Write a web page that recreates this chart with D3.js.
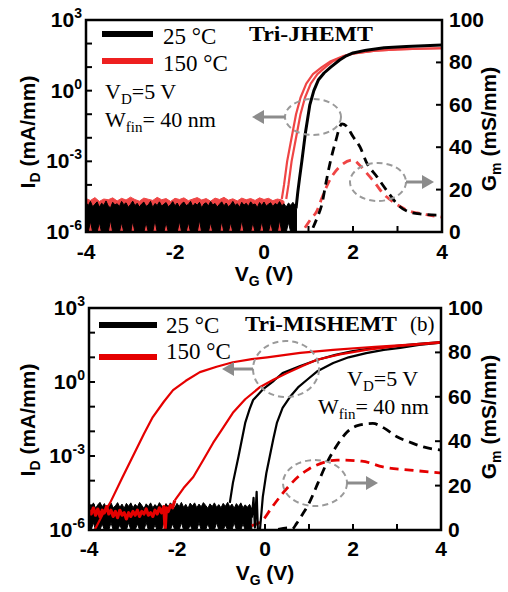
<!DOCTYPE html>
<html>
<head>
<meta charset="utf-8">
<script src="https://cdn.jsdelivr.net/npm/d3@7"></script>
<style>
  body { margin: 0; background: #fff; }
  text { fill: #000; }
</style>
</head>
<body>
<svg id="chart" width="508" height="592"></svg>
<script>
// ─── Axis ticks ───────────────────────────────────────────────────────────────
const vgTicks = [-4, -2, 0, 2, 4];
const vgMinorTicks = [-3, -1, 1, 3];
const idLabelExps = [3, 0, -3, -6];
const idMinorExps = [2, 1, -1, -2, -4, -5];
const gmTicks = [0, 20, 40, 60, 80, 100];

// ─── Panel (a): Tri-JHEMT, points are [VG, log10(ID)] or [VG, Gm] ─────────────
// noise floors: [VG, top log10, bottom log10]
const jNoise25 = [[-4.00,-4.75,-6],[-3.95,-4.88,-6],[-3.90,-4.70,-5.55],[-3.85,-4.93,-6],[-3.80,-4.82,-6],[-3.75,-4.72,-6],[-3.70,-4.95,-5.6],[-3.65,-4.78,-6],[-3.60,-4.86,-6],[-3.55,-4.68,-6],[-3.50,-4.90,-6],[-3.45,-4.97,-5.5],[-3.40,-4.74,-6],[-3.35,-4.85,-6],[-3.30,-4.80,-6],[-3.25,-4.92,-6],[-3.20,-4.70,-5.6],[-3.15,-4.84,-6],[-3.10,-4.76,-6],[-3.05,-4.95,-6],[-3.00,-4.83,-6],[-2.95,-4.69,-5.55],[-2.90,-4.88,-6],[-2.85,-4.78,-6],[-2.80,-4.94,-6],[-2.75,-4.81,-6],[-2.70,-4.73,-6],[-2.65,-4.91,-5.6],[-2.60,-4.85,-6],[-2.55,-4.70,-6],[-2.50,-4.96,-6],[-2.45,-4.79,-5.5],[-2.40,-4.87,-6],[-2.35,-4.72,-6],[-2.30,-4.90,-6],[-2.25,-4.82,-6],[-2.20,-4.75,-5.6],[-2.15,-4.93,-6],[-2.10,-4.84,-6],[-2.05,-4.71,-6],[-2.00,-4.89,-6],[-1.95,-4.77,-6],[-1.90,-4.95,-5.55],[-1.85,-4.80,-6],[-1.80,-4.73,-6],[-1.75,-4.88,-6],[-1.70,-4.83,-5.6],[-1.65,-4.70,-6],[-1.60,-4.92,-6],[-1.55,-4.78,-6],[-1.50,-4.86,-6],[-1.45,-4.74,-5.5],[-1.40,-4.97,-6],[-1.35,-4.81,-6],[-1.30,-4.76,-6],[-1.25,-4.90,-6],[-1.20,-4.71,-5.6],[-1.15,-4.85,-6],[-1.10,-4.79,-6],[-1.05,-4.94,-6],[-1.00,-4.82,-6],[-0.95,-4.72,-5.55],[-0.90,-4.89,-6],[-0.85,-4.77,-6],[-0.80,-4.93,-6],[-0.75,-4.84,-5.6],[-0.70,-4.70,-6],[-0.65,-4.87,-6],[-0.60,-4.80,-6],[-0.55,-4.95,-6],[-0.50,-4.74,-5.5],[-0.45,-4.86,-6],[-0.40,-4.78,-6],[-0.35,-4.91,-6],[-0.30,-4.72,-6],[-0.25,-4.84,-5.6],[-0.20,-4.81,-6],[-0.15,-4.96,-6],[-0.10,-4.75,-6],[-0.05,-4.88,-5.55],[0.00,-4.73,-6],[0.05,-4.90,-6],[0.10,-4.82,-6],[0.15,-4.76,-5.6],[0.20,-4.92,-6],[0.25,-4.79,-6],[0.30,-4.85,-6],[0.35,-4.71,-5.5],[0.40,-4.89,-6],[0.45,-4.80,-6],[0.50,-4.94,-6],[0.55,-4.77,-5.6],[0.60,-4.86,-6],[0.65,-4.74,-6],[0.70,-4.88,-6],[0.73,-5.0,-6]];
const jNoise150 = [[-4.0,-4.58,-6],[-3.9,-4.66,-6],[-3.8,-4.54,-6],[-3.7,-4.7,-6],[-3.6,-4.6,-6],[-3.5,-4.63,-6],[-3.4,-4.55,-6],[-3.3,-4.68,-6],[-3.2,-4.57,-6],[-3.1,-4.64,-6],[-3.0,-4.52,-6],[-2.9,-4.62,-6],[-2.8,-4.69,-6],[-2.7,-4.56,-6],[-2.6,-4.61,-6],[-2.5,-4.66,-6],[-2.4,-4.53,-6],[-2.3,-4.63,-6],[-2.2,-4.58,-6],[-2.1,-4.7,-6],[-2.0,-4.57,-6],[-1.9,-4.62,-6],[-1.8,-4.55,-6],[-1.7,-4.67,-6],[-1.6,-4.6,-6],[-1.5,-4.54,-6],[-1.4,-4.64,-6],[-1.3,-4.58,-6],[-1.2,-4.69,-6],[-1.1,-4.56,-6],[-1.0,-4.62,-6],[-0.9,-4.53,-6],[-0.8,-4.65,-6],[-0.7,-4.59,-6],[-0.6,-4.68,-6],[-0.5,-4.56,-6],[-0.4,-4.63,-6],[-0.3,-4.58,-6],[-0.2,-4.66,-6],[-0.1,-4.55,-6],[0.0,-4.62,-6],[0.1,-4.57,-6],[0.2,-4.67,-6],[0.3,-4.6,-6],[0.4,-4.64,-6],[0.45,-4.7,-6]];
const jId25 = [[0.72,-5.0],[0.76,-4.3],[0.8,-3.7],[0.85,-3.0],[0.93,-1.8],[1.03,-0.6],[1.12,0.0],[1.22,0.45],[1.35,0.75],[1.5,1.0],[1.7,1.3],[1.85,1.48],[2.0,1.6],[2.3,1.72],[2.7,1.82],[3.2,1.88],[3.6,1.91],[4.0,1.94]];
const jId150a = [[0.40,-4.6],[0.45,-4.0],[0.52,-3.0],[0.62,-2.0],[0.72,-1.0],[0.82,-0.3],[0.95,0.3],[1.1,0.7],[1.3,1.0],[1.5,1.25],[1.8,1.48],[2.0,1.58],[2.5,1.7],[3.0,1.75],[3.5,1.78],[4.0,1.8]];
const jId150b = [[0.50,-4.6],[0.55,-4.0],[0.62,-3.0],[0.72,-2.0],[0.82,-1.0],[0.92,-0.3],[1.05,0.3],[1.2,0.7],[1.38,1.0],[1.55,1.25],[1.8,1.46],[2.0,1.57],[2.5,1.7],[3.0,1.75],[3.5,1.78],[4.0,1.8]];
const jGm25 = [[1.1,2],[1.2,7],[1.3,13],[1.4,24],[1.5,34],[1.6,42],[1.75,51],[1.85,50],[2.0,45],[2.16,40],[2.3,33],[2.54,26],[2.83,17.5],[3.0,13],[3.2,10],[3.5,8.5],[3.9,8],[4.0,8]];
const jGm150 = [[0.92,2],[1.05,6],[1.19,10],[1.3,16],[1.42,22],[1.55,27],[1.71,31],[2.0,34],[2.15,31.5],[2.3,28],[2.5,23],[2.68,18],[2.85,15],[3.06,12],[3.25,10],[3.44,9],[3.7,8],[4.0,7]];

// ─── Panel (b): Tri-MISHEMT ───────────────────────────────────────────────────
const mNoise25 = [[-4.00,-4.95,-6],[-3.95,-5.08,-6],[-3.90,-4.9,-5.7],[-3.85,-5.12,-6],[-3.80,-4.98,-6],[-3.75,-4.88,-6],[-3.70,-5.06,-5.75],[-3.65,-4.93,-6],[-3.60,-5.14,-6],[-3.55,-4.97,-6],[-3.50,-4.9,-5.7],[-3.45,-5.1,-6],[-3.40,-5.02,-6],[-3.35,-4.89,-6],[-3.30,-5.08,-5.8],[-3.25,-4.95,-6],[-3.20,-5.12,-6],[-3.15,-4.92,-6],[-3.10,-5.04,-5.7],[-3.05,-4.9,-6],[-3.00,-5.1,-6],[-2.95,-4.96,-6],[-2.90,-5.06,-5.75],[-2.85,-4.88,-6],[-2.80,-5.0,-6],[-2.75,-5.13,-6],[-2.70,-4.94,-5.7],[-2.65,-5.05,-6],[-2.60,-4.9,-6],[-2.55,-5.1,-6],[-2.50,-4.97,-5.8],[-2.45,-5.07,-6],[-2.40,-4.89,-6],[-2.35,-5.02,-6],[-2.30,-5.12,-5.7],[-2.25,-4.93,-6],[-2.20,-5.06,-6],[-2.15,-4.9,-6],[-2.10,-5.0,-5.75],[-2.05,-5.1,-6],[-2.00,-4.92,-6],[-1.95,-5.05,-6],[-1.90,-4.88,-5.7],[-1.85,-5.08,-6],[-1.80,-4.96,-6],[-1.75,-5.13,-6],[-1.70,-4.91,-5.8],[-1.65,-5.03,-6],[-1.60,-4.9,-6],[-1.55,-5.1,-6],[-1.50,-4.95,-5.7],[-1.45,-5.06,-6],[-1.40,-4.89,-6],[-1.35,-5.0,-6],[-1.30,-5.12,-5.75],[-1.25,-4.94,-6],[-1.20,-5.05,-6],[-1.15,-4.9,-6],[-1.10,-5.08,-5.7],[-1.05,-4.97,-6],[-1.00,-5.1,-6],[-0.95,-4.92,-6],[-0.90,-5.04,-5.8],[-0.85,-4.88,-6],[-0.80,-5.06,-6],[-0.75,-4.95,-6],[-0.70,-5.12,-5.7],[-0.65,-4.93,-6],[-0.60,-5.05,-6],[-0.55,-4.9,-6],[-0.50,-5.1,-5.75],[-0.45,-4.98,-6],[-0.40,-5.08,-6],[-0.35,-4.96,-6],[-0.30,-5.15,-6]];
const mNoise150 = [[-4.0,-5.2],[-3.95,-5.35],[-3.9,-5.1],[-3.85,-5.4],[-3.8,-5.15],[-3.75,-5.45],[-3.7,-5.2],[-3.65,-5.3],[-3.6,-5.05],[-3.55,-5.35],[-3.5,-5.2],[-3.45,-5.45],[-3.4,-5.25],[-3.35,-5.5],[-3.3,-5.2],[-3.25,-5.4],[-3.2,-5.3],[-3.15,-5.55],[-3.1,-5.3],[-3.05,-5.45],[-3.0,-5.25],[-2.95,-5.4],[-2.9,-5.2],[-2.85,-5.45],[-2.8,-5.25],[-2.75,-5.35],[-2.7,-5.15],[-2.65,-5.4],[-2.6,-5.3],[-2.55,-5.45],[-2.5,-5.2],[-2.45,-5.35],[-2.4,-5.1],[-2.35,-5.3],[-2.3,-5.05],[-2.27,-6.0],[-2.24,-5.1],[-2.2,-5.25],[-2.15,-5.0],[-2.1,-5.1],[-2.05,-4.8]];
const mId25a = [[-0.8,-4.9],[-0.73,-4.1],[-0.6,-3.0],[-0.45,-1.66],[-0.35,-1.1],[-0.27,-0.73],[-0.05,-0.3],[0.2,0.05],[0.4,0.36],[0.8,0.65],[1.18,0.89],[1.6,1.1],[2.0,1.25],[2.5,1.38],[3.07,1.48],[3.5,1.55],[4.0,1.62]];
const mId25b = [[-0.3,-5.5],[-0.26,-4.7],[-0.23,-5.9],[-0.19,-4.45],[-0.16,-6.1],[-0.12,-6.1],[-0.05,-4.66],[0.03,-3.7],[0.11,-3.0],[0.19,-2.3],[0.27,-1.66],[0.4,-1.05],[0.57,-0.6],[0.75,-0.22],[0.95,0.08],[1.2,0.45],[1.55,0.77],[1.9,1.0],[2.3,1.17],[2.7,1.3],[3.07,1.38],[3.5,1.5],[4.0,1.6]];
const mId150a = [[-3.9,-6.1],[-3.7,-5.4],[-3.52,-4.9],[-3.25,-3.9],[-3.0,-3.0],[-2.75,-2.1],[-2.55,-1.42],[-2.3,-0.8],[-2.09,-0.33],[-1.8,0.05],[-1.48,0.4],[-1.1,0.62],[-0.73,0.8],[-0.3,0.93],[0.05,1.0],[0.8,1.18],[1.55,1.3],[2.5,1.43],[3.3,1.52],[4.0,1.62]];
const mId150b = [[-2.05,-4.8],[-1.85,-4.3],[-1.63,-3.85],[-1.4,-3.15],[-1.18,-2.47],[-0.95,-1.85],[-0.73,-1.25],[-0.45,-0.7],[-0.11,-0.2],[0.2,0.1],[0.5,0.36],[0.85,0.65],[1.18,0.9],[1.7,1.12],[2.3,1.3],[3.0,1.45],[4.0,1.6]];
const mGm25 = [[0.3,0.3],[0.5,1],[0.62,0.5],[0.72,3],[0.85,7],[1.0,12],[1.2,21],[1.4,30],[1.6,37],[1.86,44],[2.1,47],[2.45,48],[2.7,46],[3.0,42],[3.3,39.5],[3.6,37.4],[4.0,36]];
const mGm150 = [[-0.3,2],[-0.05,4.5],[0.15,10],[0.41,16.7],[0.6,21],[0.8,24.8],[1.0,27.5],[1.18,29.3],[1.64,31.5],[2.2,31],[2.68,28.4],[3.3,27],[4.0,25.7]];

// ─── Styles ───────────────────────────────────────────────────────────────────
const SANS = "'Liberation Sans', Arial, sans-serif";
const SERIF = "'Liberation Serif', 'Times New Roman', serif";
const BLACK = "#000";
const RED_A = "#ef4545";
const RED_B = "#e50000";
const GREY = "#8c8c8c";

const svg = d3.select("#chart");

const panels = [
  {
    id: "a", left: 86, right: 442, top: 20, bottom: 232,
    red: RED_A, title: "Tri-JHEMT", titleX: 249, titleY: 41, titleW: 124, tag: null,
    legend: { x1: 102, x2: 153, y25: 34, y150: 61, tx: 163, ty25: 44, ty150: 71 },
    cond: { x: 105, y1: 99, x2: 105, y2: 127 },
    noise: [{ data: jNoise150, color: RED_A }, { data: jNoise25, color: BLACK }],
    noiseLine: null,
    id25: [{ data: jId25, width: 3 }],
    id150: [{ data: jId150a, width: 2.2 }, { data: jId150b, width: 2.2 }],
    gm25: jGm25, gm150: jGm150,
    ellipses: [
      { cx: 313, cy: 117, rx: 28, ry: 18, ax1: 285, ax2: 252 },
      { cx: 378, cy: 182, rx: 28, ry: 19, ax1: 406, ax2: 434 }
    ],
    xTitleY: 281, xLabelY: 259, yTitleCy: 132
  },
  {
    id: "b", left: 89, right: 441, top: 308, bottom: 530,
    red: RED_B, title: "Tri-MISHEMT", titleX: 245, titleY: 331, titleW: 152, tag: "(b)",
    legend: { x1: 99, x2: 157, y25: 325, y150: 357, tx: 166, ty25: 333, ty150: 359 },
    cond: { x: 347, y1: 386, x2: 318, y2: 414 },
    noise: [{ data: mNoise25, color: BLACK }],
    noiseLine: mNoise150,
    id25: [{ data: mId25a, width: 2.2 }, { data: mId25b, width: 2.2 }],
    id150: [{ data: mId150a, width: 2.2 }, { data: mId150b, width: 2.2 }],
    gm25: mGm25, gm150: mGm150,
    ellipses: [
      { cx: 286, cy: 369, rx: 33, ry: 28, ax1: 253, ax2: 222 },
      { cx: 315, cy: 483, rx: 32, ry: 23, ax1: 347, ax2: 378 }
    ],
    xTitleY: 580, xLabelY: 556, yTitleCy: 420
  }
];

panels.forEach(drawPanel);

function drawPanel(p) {
  const x = d3.scaleLinear().domain([-4, 4]).range([p.left, p.right]);
  const y = d3.scaleLog().domain([1e-6, 1e3]).range([p.bottom, p.top]);
  const yGm = d3.scaleLinear().domain([0, 100]).range([p.bottom, p.top]);
  const yLog = v => y(Math.pow(10, v));

  const g = svg.append("g").attr("class", "panel-" + p.id);

  g.append("clipPath").attr("id", "clip-" + p.id)
    .append("rect")
    .attr("x", p.left).attr("y", p.top)
    .attr("width", p.right - p.left).attr("height", p.bottom - p.top);

  const plot = g.append("g").attr("clip-path", `url(#clip-${p.id})`);

  // noise floors
  const noiseArea = d3.area()
    .x(d => x(d[0]))
    .y0(d => yLog(d[2]))
    .y1(d => yLog(d[1]));
  p.noise.forEach(n => {
    plot.append("path")
      .attr("d", noiseArea(n.data))
      .attr("fill", n.color)
      .attr("stroke", n.color)
      .attr("stroke-width", 1);
  });

  const idLine = d3.line().x(d => x(d[0])).y(d => yLog(d[1]));
  const gmLine = d3.line().x(d => x(d[0])).y(d => yGm(d[1])).curve(d3.curveMonotoneX);

  // Gm curves (dashed)
  plot.append("path").attr("d", gmLine(p.gm150))
    .attr("fill", "none").attr("stroke", p.red)
    .attr("stroke-width", 2.8).attr("stroke-dasharray", "9,6");
  plot.append("path").attr("d", gmLine(p.gm25))
    .attr("fill", "none").attr("stroke", BLACK)
    .attr("stroke-width", 2.8).attr("stroke-dasharray", "9,6");

  // ID curves
  const drawId = (list, color) => list.forEach(c => {
    plot.append("path").attr("d", idLine(c.data))
      .attr("fill", "none").attr("stroke", color)
      .attr("stroke-width", c.width).attr("stroke-linejoin", "round");
  });
  if (p.id === "a") { drawId(p.id150, p.red); drawId(p.id25, BLACK); }
  else { drawId(p.id25, BLACK); drawId(p.id150, p.red); }

  // noisy off-state trace drawn as a thick jagged line
  if (p.noiseLine) {
    plot.append("path").attr("d", idLine(p.noiseLine))
      .attr("fill", "none").attr("stroke", p.red)
      .attr("stroke-width", 3.2).attr("stroke-linejoin", "round");
  }

  // frame
  g.append("rect")
    .attr("x", p.left).attr("y", p.top)
    .attr("width", p.right - p.left).attr("height", p.bottom - p.top)
    .attr("fill", "none").attr("stroke", BLACK).attr("stroke-width", 2.5);

  // bottom ticks (inward)
  g.selectAll(".xt").data(vgTicks.concat(vgMinorTicks)).join("line")
    .attr("x1", d => x(d)).attr("x2", d => x(d))
    .attr("y1", p.bottom).attr("y2", p.bottom - 6)
    .attr("stroke", BLACK).attr("stroke-width", 2);
  g.selectAll(".xl").data(vgTicks).join("text")
    .attr("x", d => x(d)).attr("y", p.xLabelY)
    .attr("text-anchor", "middle")
    .style("font", `bold 21px ${SANS}`)
    .text(d => d);

  // left ticks (every decade)
  g.selectAll(".yt").data(idLabelExps.concat(idMinorExps)).join("line")
    .attr("x1", p.left).attr("x2", p.left + 6)
    .attr("y1", d => yLog(d)).attr("y2", d => yLog(d))
    .attr("stroke", BLACK).attr("stroke-width", 2);
  const yl = g.selectAll(".yl").data(idLabelExps).join("text")
    .attr("x", p.left - 4).attr("y", d => yLog(d) + 7)
    .attr("text-anchor", "end")
    .style("font", `bold 21px ${SANS}`);
  yl.append("tspan").text("10");
  yl.append("tspan").attr("dy", -9).style("font-size", "14px").text(d => d);

  // right ticks (Gm)
  g.selectAll(".gt").data(gmTicks).join("line")
    .attr("x1", p.right).attr("x2", p.right - 6)
    .attr("y1", d => yGm(d)).attr("y2", d => yGm(d))
    .attr("stroke", BLACK).attr("stroke-width", 2);
  g.selectAll(".gl").data(gmTicks).join("text")
    .attr("x", p.right + 7).attr("y", d => yGm(d) + 7)
    .style("font", `bold 21px ${SANS}`)
    .text(d => d);

  // axis titles
  const xt = g.append("text")
    .attr("x", (p.left + p.right) / 2).attr("y", p.xTitleY)
    .attr("text-anchor", "middle")
    .style("font", `bold 21px ${SANS}`);
  xt.append("tspan").text("V");
  xt.append("tspan").attr("dy", 5).style("font-size", "14px").text("G");
  xt.append("tspan").attr("dy", -5).text(" (V)");

  const lt = g.append("text")
    .attr("transform", `translate(35,${p.yTitleCy}) rotate(-90)`)
    .attr("text-anchor", "middle")
    .style("font", `bold 21px ${SANS}`);
  lt.append("tspan").text("I");
  lt.append("tspan").attr("dy", 5).style("font-size", "14px").text("D");
  lt.append("tspan").attr("dy", -5).text(" (mA/mm)");

  const rt = g.append("text")
    .attr("transform", `translate(496,${p.yTitleCy - 3}) rotate(-90)`)
    .attr("text-anchor", "middle")
    .style("font", `bold 21px ${SANS}`);
  rt.append("tspan").text("G");
  rt.append("tspan").attr("dy", 5).style("font-size", "14px").text("m");
  rt.append("tspan").attr("dy", -5).text(" (mS/mm)");

  // legend
  const L = p.legend;
  g.append("line").attr("x1", L.x1).attr("x2", L.x2).attr("y1", L.y25).attr("y2", L.y25)
    .attr("stroke", BLACK).attr("stroke-width", 6);
  g.append("line").attr("x1", L.x1).attr("x2", L.x2).attr("y1", L.y150).attr("y2", L.y150)
    .attr("stroke", p.id === "a" ? "#ee2020" : RED_B).attr("stroke-width", 6);
  g.append("text").attr("x", L.tx).attr("y", L.ty25)
    .style("font", `23px ${SERIF}`).text("25 °C");
  g.append("text").attr("x", L.tx).attr("y", L.ty150)
    .style("font", `23px ${SERIF}`).text("150 °C");

  // device name
  g.append("text").attr("x", p.titleX).attr("y", p.titleY)
    .attr("textLength", p.titleW).attr("lengthAdjust", "spacingAndGlyphs")
    .style("font", `bold 22px ${SERIF}`).text(p.title);
  if (p.tag) {
    g.append("text").attr("x", 410).attr("y", p.titleY)
      .style("font", `21px ${SERIF}`).text(p.tag);
  }

  // bias conditions
  const c1 = g.append("text").attr("x", p.cond.x).attr("y", p.cond.y1)
    .style("font", `22px ${SERIF}`);
  c1.append("tspan").text("V");
  c1.append("tspan").attr("dy", 5).style("font-size", "15px").text("D");
  c1.append("tspan").attr("dy", -5).text("=5 V");
  const c2 = g.append("text").attr("x", p.cond.x2).attr("y", p.cond.y2)
    .style("font", `22px ${SERIF}`);
  c2.append("tspan").text("W");
  c2.append("tspan").attr("dy", 5).style("font-size", "15px").text("fin");
  c2.append("tspan").attr("dy", -5).text("= 40 nm");

  // dashed ellipses with arrows
  p.ellipses.forEach(e => {
    g.append("ellipse")
      .attr("cx", e.cx).attr("cy", e.cy).attr("rx", e.rx).attr("ry", e.ry)
      .attr("fill", "none").attr("stroke", "#9a9a9a")
      .attr("stroke-width", 2).attr("stroke-dasharray", "6,4");
    const dir = Math.sign(e.ax2 - e.ax1);
    g.append("line")
      .attr("x1", e.ax1).attr("x2", e.ax2 - dir * 10)
      .attr("y1", e.cy).attr("y2", e.cy)
      .attr("stroke", GREY).attr("stroke-width", 3);
    g.append("path")
      .attr("d", `M${e.ax2},${e.cy} L${e.ax2 - dir * 12},${e.cy - 7} L${e.ax2 - dir * 12},${e.cy + 7} Z`)
      .attr("fill", GREY);
  });
}
</script>
</body>
</html>
